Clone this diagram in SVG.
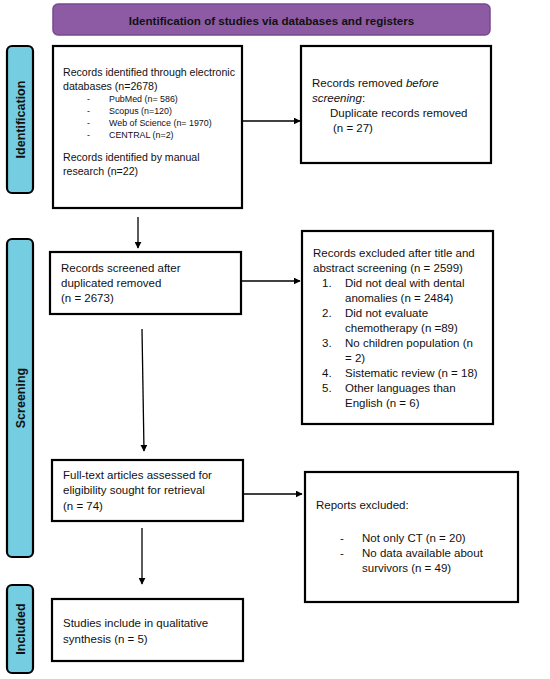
<svg xmlns="http://www.w3.org/2000/svg" width="550" height="679" viewBox="0 0 550 679">
<style>
.box{fill:#fff;stroke:#000;stroke-width:2.2}
.side{fill:#74cde0;stroke:#000;stroke-width:2.2}
.t{font-family:"Liberation Sans",Arial,sans-serif;font-size:11.5px;fill:#111}
.t1{font-family:"Liberation Sans",Arial,sans-serif;font-size:10.6px;fill:#111}
.s{font-family:"Liberation Sans",Arial,sans-serif;font-size:8.9px;fill:#111}
.b{font-family:"Liberation Sans",Arial,sans-serif;font-weight:bold;fill:#111}
.c{stroke:#000;stroke-width:1.3;fill:none}
</style>
<defs>
<marker id="ah" viewBox="0 0 10 10" refX="9" refY="5" markerWidth="7" markerHeight="7" orient="auto" markerUnits="userSpaceOnUse">
<path d="M0,0 L10,5 L0,10 z" fill="#000"/>
</marker>
</defs>
<rect width="550" height="679" fill="#fff"/>
<g id="title">
<rect x="53" y="4" width="437" height="31" rx="5" fill="#8c5ba3" stroke="#774a90" stroke-width="1.5"/>
<text class="b" x="271.5" y="25" font-size="11.6" text-anchor="middle">Identification of studies via databases and registers</text>
</g>
<g id="side-identification">
<rect class="side" x="7" y="46" width="26" height="147" rx="5"/>
<text class="b" font-size="12.5" text-anchor="middle" transform="translate(24.5,119.5) rotate(-90)">Identification</text>
</g>
<g id="side-screening">
<rect class="side" x="7" y="239" width="26" height="318" rx="5"/>
<text class="b" font-size="12.5" text-anchor="middle" transform="translate(24.5,398) rotate(-90)">Screening</text>
</g>
<g id="side-included">
<rect class="side" x="7" y="585" width="26" height="88" rx="5"/>
<text class="b" font-size="12.5" text-anchor="middle" transform="translate(24.5,629) rotate(-90)">Included</text>
</g>
<g id="records-identified">
<rect class="box" x="53" y="46" width="189" height="162"/>
<text class="t1" x="63" y="76">Records identified through electronic</text>
<text class="t1" x="63" y="90">databases (n=2678)</text>
<text class="s" x="87" y="102">-</text><text class="s" x="109" y="102">PubMed (n= 586)</text>
<text class="s" x="87" y="114">-</text><text class="s" x="109" y="114">Scopus (n=120)</text>
<text class="s" x="87" y="126">-</text><text class="s" x="109" y="126">Web of Science (n= 1970)</text>
<text class="s" x="87" y="138">-</text><text class="s" x="109" y="138">CENTRAL (n=2)</text>
<text class="t1" x="63" y="161">Records identified by manual</text>
<text class="t1" x="63" y="175">research (n=22)</text>
</g>
<g id="records-removed">
<rect class="box" x="301" y="46" width="190" height="117"/>
<text class="t" x="312" y="87">Records removed <tspan font-style="italic">before</tspan></text>
<text class="t" x="312" y="102"><tspan font-style="italic">screening</tspan>:</text>
<text class="t" x="330" y="117">Duplicate records removed</text>
<text class="t" x="333" y="132">(n = 27)</text>
</g>
<g id="records-screened">
<rect class="box" x="50" y="252" width="191" height="62"/>
<text class="t" x="61" y="272">Records screened after</text>
<text class="t" x="61" y="287">duplicated removed</text>
<text class="t" x="61" y="302">(n = 2673)</text>
</g>
<g id="records-excluded">
<rect class="box" x="302" y="231" width="191" height="193"/>
<text class="t" x="313" y="257">Records excluded after title and</text>
<text class="t" x="313" y="272">abstract screening (n = 2599)</text>
<text class="t" x="322" y="287">1.</text><text class="t" x="345" y="287">Did not deal with dental</text>
<text class="t" x="345" y="302">anomalies (n = 2484)</text>
<text class="t" x="322" y="317">2.</text><text class="t" x="345" y="317">Did not evaluate</text>
<text class="t" x="345" y="332">chemotherapy (n =89)</text>
<text class="t" x="322" y="347">3.</text><text class="t" x="345" y="347">No children population (n</text>
<text class="t" x="345" y="362">= 2)</text>
<text class="t" x="322" y="377">4.</text><text class="t" x="345" y="377">Sistematic review (n = 18)</text>
<text class="t" x="322" y="392">5.</text><text class="t" x="345" y="392">Other languages than</text>
<text class="t" x="345" y="407">English (n = 6)</text>
</g>
<g id="full-text">
<rect class="box" x="52" y="460" width="191" height="61"/>
<text class="t" x="63" y="479">Full-text articles assessed for</text>
<text class="t" x="63" y="494">eligibility sought for retrieval</text>
<text class="t" x="63" y="510">(n = 74)</text>
</g>
<g id="reports-excluded">
<rect class="box" x="305" y="472" width="213" height="130"/>
<text class="t" x="316" y="509">Reports excluded:</text>
<text class="t" x="340" y="542">-</text><text class="t" x="362" y="542">Not only CT (n = 20)</text>
<text class="t" x="340" y="557">-</text><text class="t" x="362" y="557">No data available about</text>
<text class="t" x="362" y="572">survivors (n = 49)</text>
</g>
<g id="studies-included">
<rect class="box" x="52" y="599" width="191" height="62"/>
<text class="t" x="63" y="627">Studies include in qualitative</text>
<text class="t" x="63" y="643">synthesis (n = 5)</text>
</g>
<g id="connectors">
<line class="c" x1="242" y1="121" x2="300" y2="121" marker-end="url(#ah)"/>
<line class="c" x1="138" y1="217" x2="138" y2="248" marker-end="url(#ah)"/>
<line class="c" x1="241" y1="281" x2="300" y2="281" marker-end="url(#ah)"/>
<line class="c" x1="142" y1="329" x2="144" y2="451" marker-end="url(#ah)"/>
<line class="c" x1="243" y1="494" x2="302" y2="494" marker-end="url(#ah)"/>
<line class="c" x1="142" y1="528" x2="142" y2="584" marker-end="url(#ah)"/>
</g>
</svg>
